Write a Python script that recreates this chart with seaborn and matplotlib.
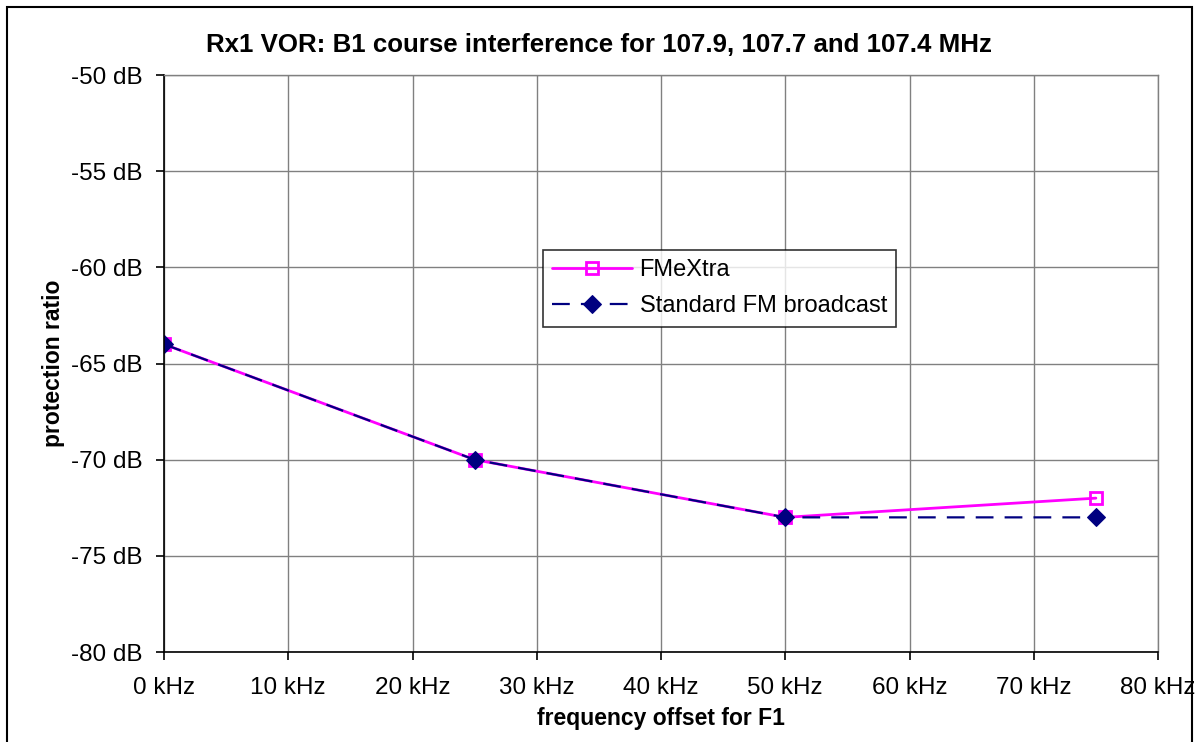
import matplotlib
matplotlib.use("Agg")
import matplotlib.pyplot as plt
import seaborn as sns
import pandas as pd
from matplotlib.patches import Rectangle
from matplotlib.ticker import FuncFormatter, MultipleLocator

# offset in kHz
offsets = [0, 25, 50, 75]
fmextra = [-64, -70, -73, -72]
standard_fm = [-64, -70, -73, -73]

sns.set_theme(style="white")
plt.rcParams["font.family"] = ["Liberation Sans", "DejaVu Sans"]
plt.rcParams["text.color"] = "black"
plt.rcParams["axes.labelcolor"] = "black"
plt.rcParams["xtick.color"] = "black"
plt.rcParams["ytick.color"] = "black"

fig = plt.figure(figsize=(11.97, 7.42), dpi=100)
ax = fig.add_axes([164 / 1197, 1 - 652 / 742, (1158 - 164) / 1197, (652 - 75) / 742])

df_a = pd.DataFrame({"offset": offsets, "ratio": fmextra})
df_b = pd.DataFrame({"offset": offsets, "ratio": standard_fm})

sns.lineplot(data=df_a, x="offset", y="ratio", ax=ax, color="#ff00ff", lw=2,
             marker="s", markersize=8, markerfacecolor="none",
             markeredgecolor="#ff00ff", markeredgewidth=2, label="FMeXtra")
sns.lineplot(data=df_b, x="offset", y="ratio", ax=ax, color="#000080", lw=1.6,
             linestyle=(0, (8, 5)), marker="D", markersize=9,
             markerfacecolor="#000080", markeredgecolor="#000080",
             label="Standard FM broadcast")

ax.set_xlim(0, 80)
ax.set_ylim(-80, -50)
ax.xaxis.set_major_locator(MultipleLocator(10))
ax.yaxis.set_major_locator(MultipleLocator(5))
ax.xaxis.set_major_formatter(FuncFormatter(lambda v, p: f"{v:.0f} kHz"))
ax.yaxis.set_major_formatter(FuncFormatter(lambda v, p: f"{v:.0f} dB"))
ax.grid(True, color="#808080", lw=1)
ax.set_axisbelow(True)
for s in ("top", "right"):
    ax.spines[s].set_color("#808080")
    ax.spines[s].set_linewidth(1)
for s in ("left", "bottom"):
    ax.spines[s].set_color("black")
    ax.spines[s].set_linewidth(1.2)
ax.tick_params(axis="both", which="major", bottom=True, left=True,
               direction="out", length=6, width=1.2, color="black",
               labelcolor="black", labelsize=17.5)
ax.tick_params(axis="y", pad=9.5)
ax.tick_params(axis="x", pad=12)

ax.set_xlabel("frequency offset for F1", fontsize=16.5, fontweight="bold", labelpad=5.5)
ax.set_ylabel("protection ratio", fontsize=16.5, fontweight="bold", labelpad=4.5)
fig.text(0.5, 1 - 45 / 742,
         "Rx1 VOR: B1 course interference for 107.9, 107.7 and 107.4 MHz",
         fontsize=18.6, fontweight="bold", ha="center", va="center")

leg = ax.legend(loc="upper left", bbox_to_anchor=(0.381, 0.697), frameon=True,
                fancybox=False, edgecolor="black", fontsize=17,
                handlelength=3.4, handletextpad=0.3, borderaxespad=0,
                borderpad=0.4, labelspacing=0.6)
leg.get_frame().set_linewidth(1.2)

fig.patches.append(Rectangle((7 / 1197, -0.05), (1192 - 7) / 1197, 1.05 - 7 / 742,
                             transform=fig.transFigure, fill=False,
                             edgecolor="black", lw=1.5, zorder=10))

fig.savefig("out.png", dpi=100)
